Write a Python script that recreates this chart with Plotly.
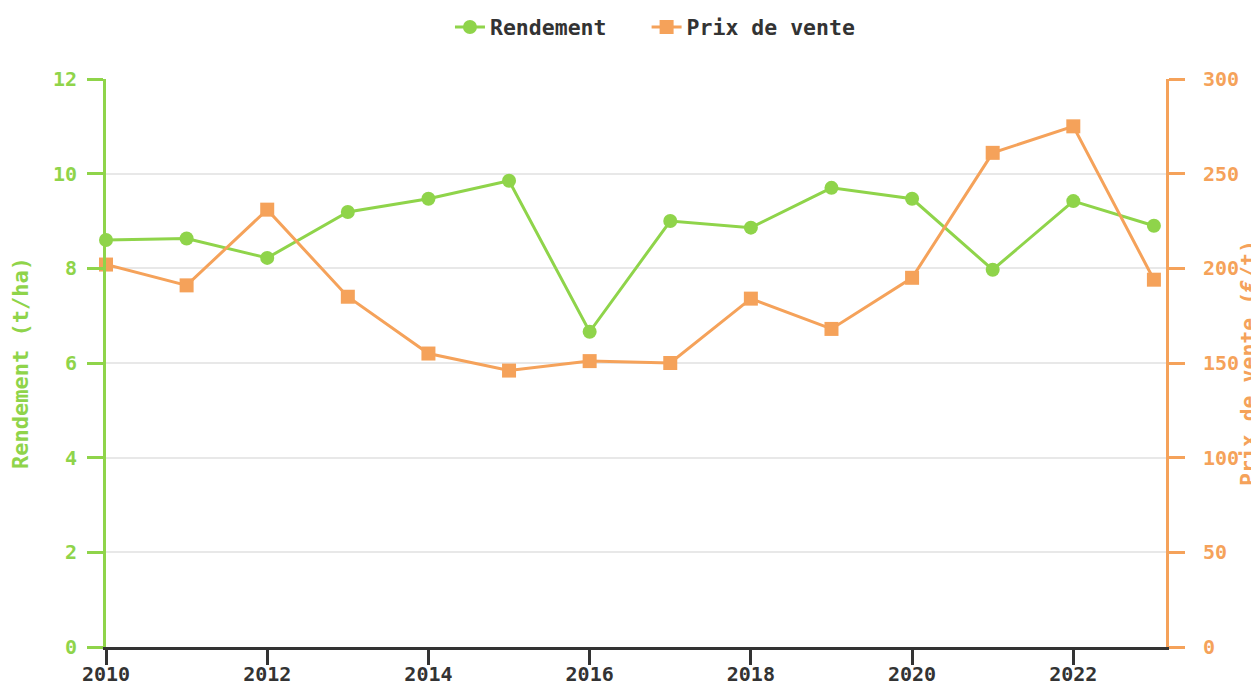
import plotly.graph_objects as go

years = list(range(2010, 2024))
rendement = [8.60, 8.63, 8.22, 9.19, 9.47, 9.85, 6.66, 9.00, 8.86, 9.70, 9.47, 7.97, 9.42, 8.90]
prix = [202, 191, 231, 185, 155, 146, 151, 150, 184, 168, 195, 261, 275, 194]

GREEN = "#8fd44a"
ORANGE = "#f5a25a"
DARK = "#333333"
FONT = "DejaVu Sans Mono"

fig = go.Figure()
fig.add_trace(go.Scatter(
    x=years, y=rendement, name="Rendement", mode="lines+markers",
    line=dict(color=GREEN, width=3), marker=dict(symbol="circle", size=14, color=GREEN),
    cliponaxis=False, yaxis="y", legend="legend", showlegend=True))
fig.add_trace(go.Scatter(
    x=years, y=prix, name="Prix de vente", mode="lines+markers",
    line=dict(color=ORANGE, width=3), marker=dict(symbol="square", size=14, color=ORANGE),
    cliponaxis=False, yaxis="y2", legend="legend2", showlegend=True))

legend_font = dict(size=21.5, color=DARK, family=FONT, weight="bold")

fig.update_layout(
    width=1259, height=684,
    showlegend=True,
    margin=dict(l=98, r=101, t=71, b=45, autoexpand=False),
    plot_bgcolor="white", paper_bgcolor="white",
    font=dict(family=FONT, size=20, color=DARK, weight="bold"),
    legend=dict(orientation="h", x=0.3245, xanchor="left", y=1.0915, yanchor="middle",
                itemwidth=30, font=legend_font, visible=True),
    legend2=dict(orientation="h", x=0.510, xanchor="left", y=1.0915, yanchor="middle",
                 itemwidth=30, font=legend_font, visible=True),
    xaxis=dict(range=[2010, 2023.15], tickmode="linear", tick0=2010, dtick=2,
               showgrid=False, zeroline=False, showline=True, linecolor=DARK, linewidth=3,
               ticks="outside", ticklen=15, tickwidth=3, tickcolor=DARK, automargin=False,
               ticklabelstandoff=-8,
               tickfont=dict(size=20, color=DARK, family=FONT, weight="bold")),
    yaxis=dict(range=[0, 12], dtick=2, showgrid=True, gridcolor="#e8e8e8", gridwidth=2,
               zeroline=False, showline=True, linecolor=GREEN, linewidth=3,
               ticks="outside", ticklen=16, tickwidth=3, tickcolor=GREEN, automargin=False,
               ticklabelstandoff=6,
               tickfont=dict(size=20, color=GREEN, family=FONT, weight="bold"),
               title=dict(text="Rendement (t/ha)", standoff=22,
                          font=dict(size=22, color=GREEN, family=FONT, weight="bold"))),
    yaxis2=dict(range=[0, 300], dtick=50, overlaying="y", side="right", anchor="x",
                showgrid=False, zeroline=False, showline=True, linecolor=ORANGE, linewidth=3,
                ticks="outside", ticklen=16, tickwidth=3, tickcolor=ORANGE, automargin=False,
                ticklabelstandoff=14,
                tickfont=dict(size=20, color=ORANGE, family=FONT, weight="bold")),
    annotations=[dict(text="Prix de vente (€/t)", textangle=-90, showarrow=False,
                      xref="paper", yref="paper", x=1.0774, y=0.5,
                      xanchor="center", yanchor="middle",
                      font=dict(size=21.5, color=ORANGE, family=FONT, weight="bold"))],
)

fig.write_html("out.html")
